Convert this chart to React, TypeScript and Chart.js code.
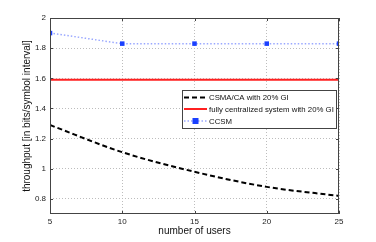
import React, { useEffect, useRef } from "react";
import { Chart, registerables } from "chart.js";
Chart.register(...registerables);

const users = [5, 10, 15, 20, 25];
const csmaValues = [1.29, 1.11, 0.98, 0.88, 0.82];
const centralValues = [1.59, 1.59, 1.59, 1.59, 1.59];
const ccsmValues = [1.9, 1.83, 1.83, 1.83, 1.83];
const yTickValues = [0.8, 1.0, 1.2, 1.4, 1.6, 1.8, 2.0];
const xTickValues = [5, 10, 15, 20, 25];
const seriesNames = ["CSMA/CA with 20% GI", "fully centralized system with 20% GI", "CCSM"];
const xTitle = "number of users";
const yTitle = "throughput [in bits/symbol interval]";

const FONT = "Liberation Sans, Arial, Helvetica, sans-serif";

const framePlugin = {
  id: "frame",
  afterDatasetsDraw(chart: any) {
    const { ctx, chartArea: a, scales } = chart;
    ctx.save();
    ctx.strokeStyle = "#444";
    ctx.lineWidth = 1;
    ctx.setLineDash([]);
    ctx.strokeRect(a.left + 0.5, a.top + 0.5, a.right - a.left - 1, a.bottom - a.top - 1);
    const tl = 3;
    scales.x.ticks.forEach((t: any) => {
      const px = Math.round(scales.x.getPixelForValue(t.value)) + 0.5;
      ctx.beginPath();
      ctx.moveTo(px, a.bottom);
      ctx.lineTo(px, a.bottom - tl);
      ctx.moveTo(px, a.top);
      ctx.lineTo(px, a.top + tl);
      ctx.stroke();
    });
    scales.y.ticks.forEach((t: any) => {
      const py = Math.round(scales.y.getPixelForValue(t.value)) + 0.5;
      ctx.beginPath();
      ctx.moveTo(a.left, py);
      ctx.lineTo(a.left + tl, py);
      ctx.moveTo(a.right, py);
      ctx.lineTo(a.right - tl, py);
      ctx.stroke();
    });
    ctx.fillStyle = "#111";
    ctx.font = `10px ${FONT}`;
    ctx.textAlign = "center";
    ctx.textBaseline = "middle";
    ctx.fillText(xTitle, (a.left + a.right) / 2, 231);
    ctx.save();
    ctx.translate(27, (a.top + a.bottom) / 2);
    ctx.rotate(-Math.PI / 2);
    ctx.fillText(yTitle, 0, 0);
    ctx.restore();

    // legend
    const lx = 182, ly = 90, lw = 154, lh = 38;
    ctx.fillStyle = "#fff";
    ctx.fillRect(lx, ly, lw, lh);
    ctx.strokeStyle = "#444";
    ctx.strokeRect(lx + 0.5, ly + 0.5, lw, lh);
    const rows = [97.5, 109, 121];
    const ds = chart.data.datasets;
    ctx.font = `7.8px ${FONT}`;
    ctx.textAlign = "left";
    rows.forEach((ry, i) => {
      const d = ds[i];
      ctx.save();
      ctx.strokeStyle = d.borderColor;
      ctx.lineWidth = d.borderWidth;
      ctx.setLineDash(d.borderDash || []);
      ctx.beginPath();
      ctx.moveTo(184, ry);
      ctx.lineTo(207, ry);
      ctx.stroke();
      ctx.restore();
      if (d.pointRadius > 0) {
        ctx.fillStyle = d.pointBackgroundColor;
        ctx.fillRect(195.5 - 3, ry - 3, 6, 6);
      }
      ctx.fillStyle = "#111";
      ctx.fillText(seriesNames[i], 209, ry + 0.5);
    });
    ctx.restore();
  },
};

export default function App() {
  const ref = useRef<HTMLCanvasElement>(null);
  useEffect(() => {
    document.body.style.margin = "0";
    const chart = new Chart(ref.current!, {
      type: "line",
      data: {
        datasets: [
          {
            label: seriesNames[0],
            data: users.map((u, i) => ({ x: u, y: csmaValues[i] })),
            borderColor: "#000",
            borderWidth: 2,
            borderDash: [5, 3],
            pointRadius: 0,
            cubicInterpolationMode: "monotone",
            fill: false,
          },
          {
            label: seriesNames[1],
            data: users.map((u, i) => ({ x: u, y: centralValues[i] })),
            borderColor: "#ff2020",
            borderWidth: 2,
            pointRadius: 0,
            fill: false,
          },
          {
            label: seriesNames[2],
            data: users.map((u, i) => ({ x: u, y: ccsmValues[i] })),
            borderColor: "#9aa8ff",
            borderWidth: 1.5,
            borderDash: [1.5, 2],
            pointStyle: "rect",
            pointRadius: 3.2,
            pointBackgroundColor: "#1a40ff",
            pointBorderColor: "#1a40ff",
            pointBorderWidth: 0,
            fill: false,
          },
        ] as any,
      },
      options: {
        animation: false,
        responsive: false,
        layout: { padding: { left: 0, top: 18, right: 37, bottom: 0 } },
        plugins: { legend: { display: false }, tooltip: { enabled: false } },
        scales: {
          x: {
            type: "linear",
            min: 5,
            max: 25,
            afterBuildTicks: (s: any) => {
              s.ticks = xTickValues.map((v) => ({ value: v }));
            },
            afterFit: (s: any) => {
              s.height = 28;
            },
            border: { display: false, dash: [1, 2] },
            grid: { color: "#bdbdbd", lineWidth: 1, drawTicks: false },
            ticks: {
              font: { family: FONT, size: 8 },
              color: "#222",
              padding: 3,
              maxRotation: 0,
            },
          },
          y: {
            min: 0.7,
            max: 2.0,
            afterBuildTicks: (s: any) => {
              s.ticks = yTickValues.map((v) => ({ value: v }));
            },
            afterFit: (s: any) => {
              s.width = 50;
            },
            border: { display: false, dash: [1, 2] },
            grid: { color: "#bdbdbd", lineWidth: 1, drawTicks: false },
            ticks: {
              font: { family: FONT, size: 8 },
              color: "#222",
              padding: 4,
              callback: (v: any) => String(Math.round(Number(v) * 10) / 10),
            },
          },
        },
      } as any,
      plugins: [framePlugin],
    });
    return () => chart.destroy();
  }, []);
  return (
    <div style={{ width: 376, height: 242 }}>
      <canvas ref={ref} width={376} height={242} />
    </div>
  );
}
